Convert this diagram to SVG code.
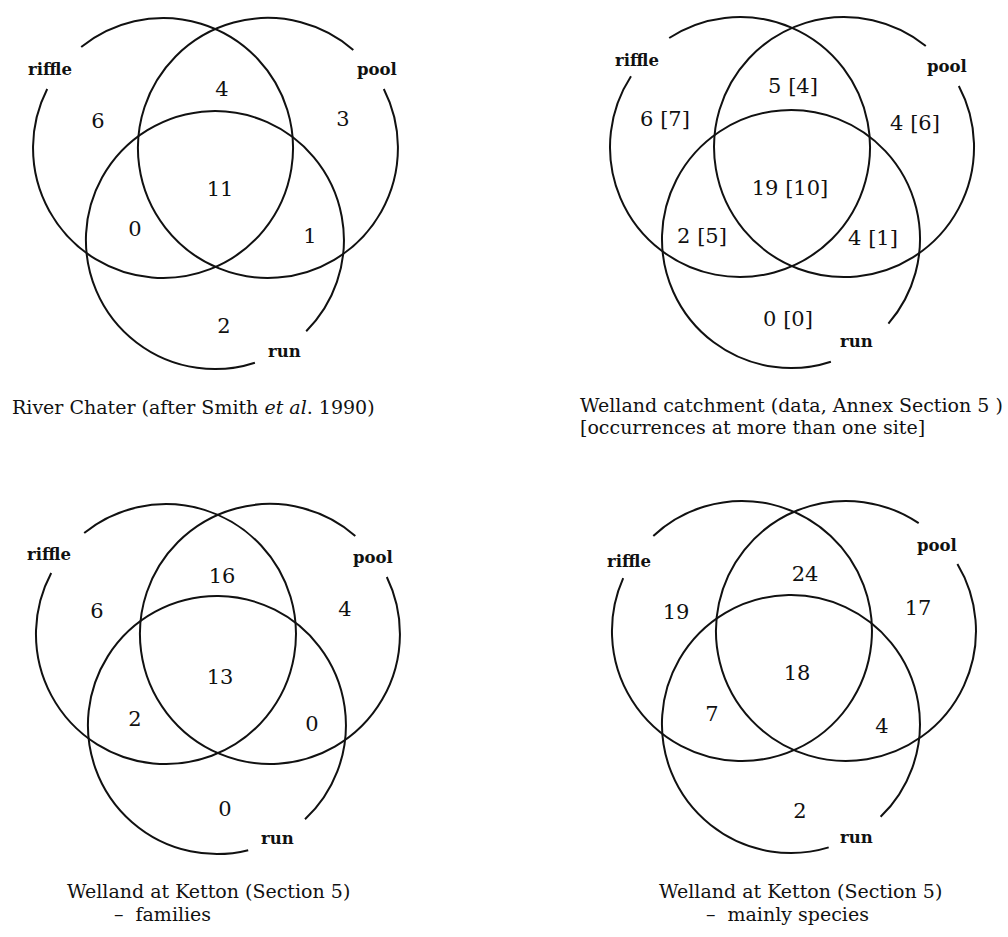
<svg xmlns="http://www.w3.org/2000/svg" width="1008" height="937" viewBox="0 0 1008 937">
<style>
.c{fill:none;stroke:#111;stroke-width:2}
.n{font-family:"DejaVu Serif","Liberation Serif",serif;font-size:21px;fill:#111;text-anchor:middle}
.l{font-family:"DejaVu Serif","Liberation Serif",serif;font-size:16.5px;font-weight:bold;fill:#111}
.t{font-family:"DejaVu Serif","Liberation Serif",serif;font-size:19px;fill:#111}
</style>
<rect width="1008" height="937" fill="#fff"/>
<g id="connectors">
<path class="c" d="M81.2 47 A130 130 0 1 1 47.2 89"/>
<path class="c" d="M383.8 89 A130 130 0 1 1 353.3 49.9"/>
<path class="c" d="M254.9 362.7 A129 129 0 1 1 306.2 331.2"/>
<path class="c" d="M669.2 38 A130 130 0 1 1 631 76.2"/>
<path class="c" d="M958.8 86 A130 130 0 1 1 925.8 46"/>
<path class="c" d="M830.9 361.7 A129 129 0 1 1 888.4 323.6"/>
<path class="c" d="M84.2 533 A130 130 0 1 1 51.2 573"/>
<path class="c" d="M386.8 577 A130 130 0 1 1 355.3 535.9"/>
<path class="c" d="M248.2 850.2 A129 129 0 1 1 305 819.3"/>
<path class="c" d="M653.3 535.9 A130 130 0 1 1 623.2 578.1"/>
<path class="c" d="M957.4 564 A130 130 0 1 1 918.7 523.2"/>
<path class="c" d="M828.7 847.4 A129 129 0 1 1 880.6 816.8"/>
</g>
<g id="d1">
<text class="l" x="28" y="75">riffle</text>
<text class="l" x="357" y="75">pool</text>
<text class="l" x="268" y="357">run</text>
<text class="n" x="222" y="95.5">4</text>
<text class="n" x="98" y="127.5">6</text>
<text class="n" x="343" y="125.5">3</text>
<text class="n" x="220" y="195.5">11</text>
<text class="n" x="135" y="235.5">0</text>
<text class="n" x="310" y="242.5">1</text>
<text class="n" x="224" y="332.5">2</text>
<text class="t" x="12" y="414">River Chater (after Smith <tspan font-style="italic">et al</tspan>. 1990)</text>
</g>
<g id="d2">
<text class="l" x="615" y="66">riffle</text>
<text class="l" x="927" y="72">pool</text>
<text class="l" x="840" y="347">run</text>
<text class="n" x="793" y="92.5">5 [4]</text>
<text class="n" x="665" y="125.5">6 [7]</text>
<text class="n" x="915" y="129.5">4 [6]</text>
<text class="n" x="790" y="194.5">19 [10]</text>
<text class="n" x="702" y="242.5">2 [5]</text>
<text class="n" x="873" y="244.5">4 [1]</text>
<text class="n" x="788" y="325.5">0 [0]</text>
<text class="t" x="580" y="412">Welland catchment (data, Annex Section 5 )</text>
<text class="t" x="580" y="434">[occurrences at more than one site]</text>
</g>
<g id="d3">
<text class="l" x="27" y="560">riffle</text>
<text class="l" x="353" y="563">pool</text>
<text class="l" x="261" y="844">run</text>
<text class="n" x="222" y="582.5">16</text>
<text class="n" x="97" y="617.5">6</text>
<text class="n" x="345" y="615.5">4</text>
<text class="n" x="220" y="683.5">13</text>
<text class="n" x="135" y="725.5">2</text>
<text class="n" x="312" y="730.5">0</text>
<text class="n" x="225" y="815.5">0</text>
<text class="t" x="67" y="898">Welland at Ketton (Section 5)</text>
<text class="t" x="114" y="921">–<tspan dx="12">families</tspan></text>
</g>
<g id="d4">
<text class="l" x="607" y="567">riffle</text>
<text class="l" x="917" y="551">pool</text>
<text class="l" x="840" y="843">run</text>
<text class="n" x="805" y="580.5">24</text>
<text class="n" x="676" y="618.5">19</text>
<text class="n" x="918" y="614.5">17</text>
<text class="n" x="797" y="679.5">18</text>
<text class="n" x="712" y="720.5">7</text>
<text class="n" x="882" y="732.5">4</text>
<text class="n" x="800" y="817.5">2</text>
<text class="t" x="659" y="898">Welland at Ketton (Section 5)</text>
<text class="t" x="706" y="921">–<tspan dx="12">mainly species</tspan></text>
</g>
</svg>
